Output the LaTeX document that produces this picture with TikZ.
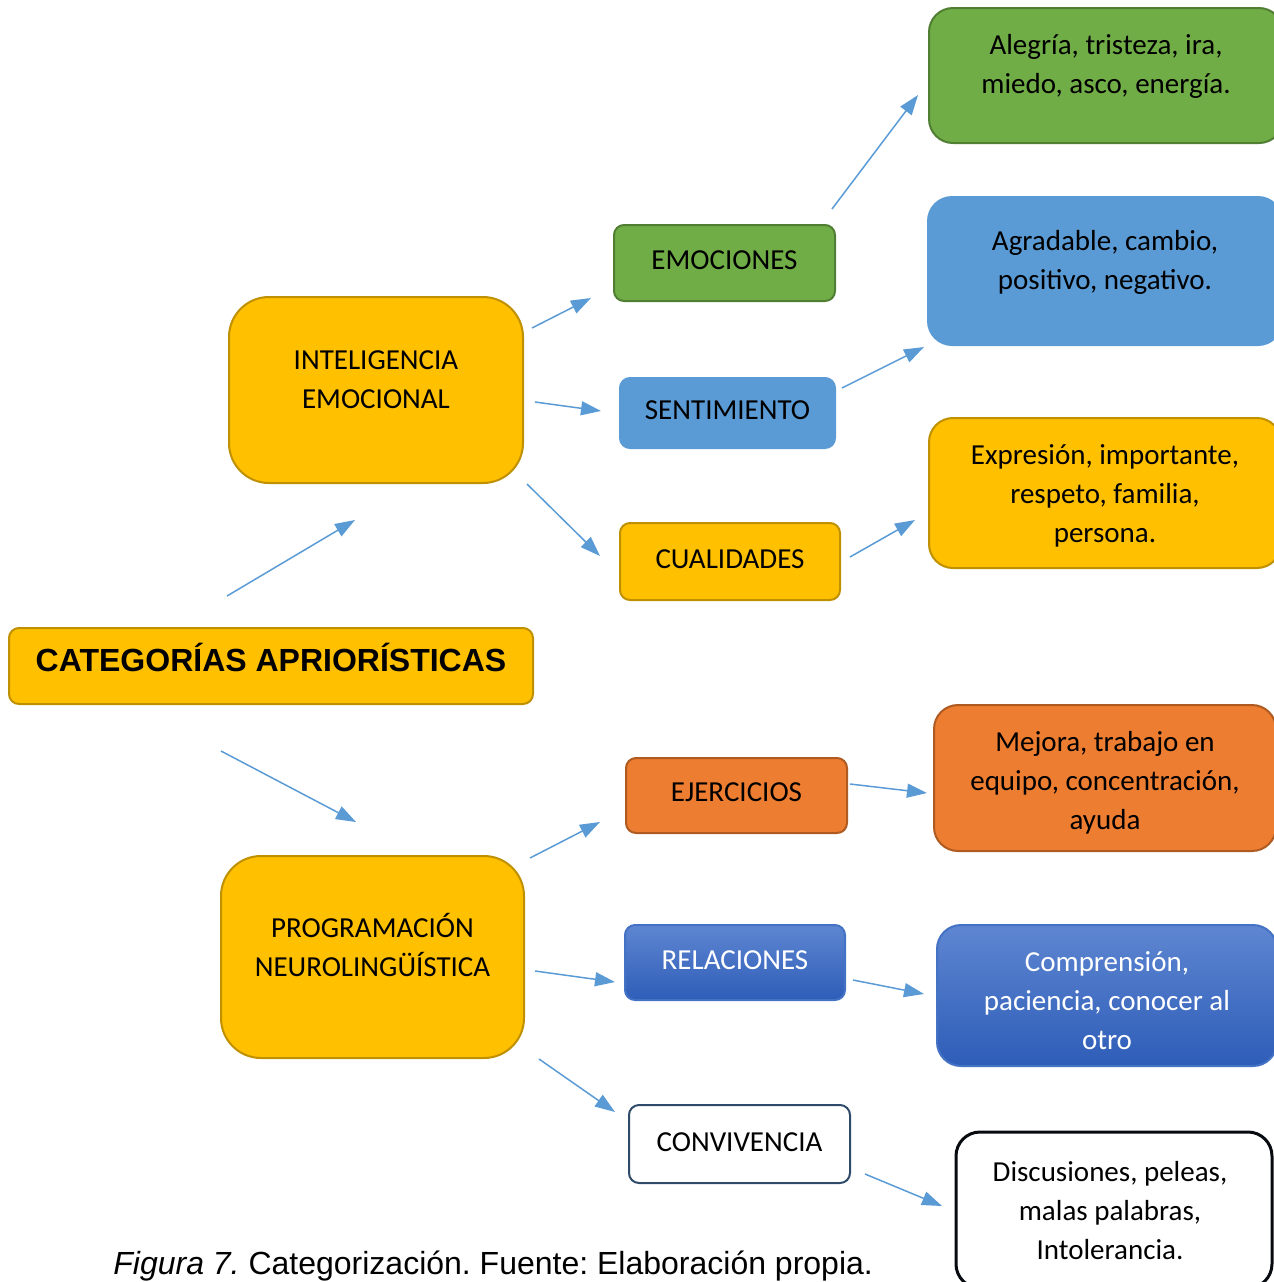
\documentclass[tikz,border=0pt]{standalone}
\usepackage{fontspec}
\setmainfont{Carlito}
\newfontfamily\arialfont{Liberation Sans}
\usetikzlibrary{arrows.meta}

\definecolor{verde}{HTML}{70AD47}
\definecolor{verdeborde}{HTML}{507E32}
\definecolor{celeste}{HTML}{5B9BD5}
\definecolor{amarillo}{HTML}{FFC000}
\definecolor{amarilloborde}{HTML}{BF9000}
\definecolor{naranja}{HTML}{ED7D31}
\definecolor{naranjaborde}{HTML}{AE5A21}
\definecolor{azularriba}{HTML}{5E86D1}
\definecolor{azulabajo}{HTML}{2E5DB8}
\definecolor{azulborde}{HTML}{4472C4}
\definecolor{gris}{HTML}{2F4B69}
\definecolor{flechaazul}{HTML}{5B9BD5}

% text lines centred, lifted by #1
\newcommand{\cajatexto}[2]{\raisebox{#1}[0pt][0pt]{\begin{tabular}{@{}c@{}}#2\end{tabular}}}

\tikzset{
  caja/.style={rounded corners=5pt, inner sep=0pt, outer sep=0pt, align=center,
    line width=1pt, font=\fontsize{14.5}{19.5}\selectfont},
  cverde/.style={caja, fill=verde, draw=verdeborde},
  cceleste/.style={caja, fill=celeste, draw=celeste},
  camarilla/.style={caja, fill=amarillo, draw=amarilloborde},
  cnaranja/.style={caja, fill=naranja, draw=naranjaborde},
  cazul/.style={caja, top color=azularriba, bottom color=azulabajo, draw=azulborde, text=white},
  cblanca/.style={caja, fill=white, draw=gris},
  flecha/.style={-{Triangle[length=10pt,width=7pt]}, line width=0.75pt, draw=flechaazul},
}

\begin{document}
\begin{tikzpicture}[x=0.5pt, y=-0.5pt]
  \path[use as bounding box] (0,0) rectangle (1274,1282);
  \clip (0,0) rectangle (1274,1282);

  % central category
  \node[camarilla, minimum width=262pt, minimum height=38pt, font=\arialfont\bfseries\fontsize{16}{19}\selectfont]
    (cat) at (271,666) {\cajatexto{-3pt}{CATEGORÍAS APRIORÍSTICAS}};

  % first branch
  \node[camarilla, rounded corners=20pt, minimum width=147pt, minimum height=93pt] (int) at (376,390) {\cajatexto{0.9pt}{INTELIGENCIA\\EMOCIONAL}};
  \node[cverde, minimum width=110.5pt, minimum height=38pt] (emo) at (724.5,263) {\cajatexto{-2.9pt}{EMOCIONES}};
  \node[cceleste, minimum width=107.5pt, minimum height=35pt] (sen) at (727.5,413) {\cajatexto{-2.9pt}{SENTIMIENTO}};
  \node[camarilla, minimum width=110pt, minimum height=38.5pt] (cua) at (730,561.5) {\cajatexto{-3.2pt}{CUALIDADES}};
  \node[cverde, rounded corners=12pt, minimum width=177pt, minimum height=67.5pt] (ale) at (1106,75.5) {\cajatexto{1.1pt}{Alegría, tristeza, ira,\\miedo, asco, energía.}};
  \node[cceleste, rounded corners=12pt, minimum width=177pt, minimum height=74pt] (agr) at (1105,271) {\cajatexto{0.9pt}{Agradable, cambio,\\positivo, negativo.}};
  \node[camarilla, rounded corners=12pt, minimum width=176pt, minimum height=75pt] (exp) at (1105,493) {\cajatexto{-4.9pt}{Expresión, importante,\\respeto, familia,\\persona.}};

  % second branch
  \node[camarilla, rounded corners=20pt, minimum width=151.5pt, minimum height=101pt] (prog) at (372.5,957) {\cajatexto{0.4pt}{PROGRAMACIÓN\\NEUROLINGÜÍSTICA}};
  \node[cnaranja, minimum width=110.5pt, minimum height=37.5pt] (eje) at (736.5,795.5) {\cajatexto{-2.7pt}{EJERCICIOS}};
  \node[cazul, minimum width=110pt, minimum height=37.5pt] (rel) at (735,962.5) {\cajatexto{-3.2pt}{RELACIONES}};
  \node[cblanca, minimum width=110.5pt, minimum height=39pt] (conv) at (739.5,1144) {\cajatexto{-3.4pt}{CONVIVENCIA}};
  \node[cnaranja, rounded corners=12pt, minimum width=171pt, minimum height=73pt] (mej) at (1105,778) {\cajatexto{-5.9pt}{Mejora, trabajo en\\equipo, concentración,\\ayuda}};
  \node[cazul, rounded corners=12pt, minimum width=170pt, minimum height=70.5pt] (com) at (1107,995.5) {\cajatexto{-7.2pt}{Comprensión,\\paciencia, conocer al\\otro}};
  \node[cblanca, rounded corners=12pt, line width=1.5pt, draw=black!85!gris, minimum width=158pt, minimum height=78pt] (dis) at (1114,1210) {\cajatexto{-4.9pt}{\hspace*{-4pt}Discusiones, peleas,\\\hspace*{-4pt}malas palabras,\\\hspace*{-4pt}Intolerancia.}};

  % arrows
  \draw[flecha] ([shift={(-44,-32)}]cat.north) -- ([shift={(-21,37)}]int.south);
  \draw[flecha] ([shift={(-50,47)}]cat.south) -- ([shift={(-16.5,-34)}]prog.north);

  \draw[flecha] ([shift={(9,-62)}]int.east) -- ([shift={(-23,35)}]emo.west);
  \draw[flecha] ([shift={(12,12)}]int.east) -- ([shift={(-19,-2)}]sen.west);
  \draw[flecha] ([shift={(4,1)}]int.south east) -- ([shift={(-20,-5.5)}]cua.west);
  \draw[flecha] ([shift={(-3,-16)}]emo.north east) -- ([shift={(-11,19.5)}]ale.west);
  \draw[flecha] ([shift={(7,-25)}]sen.east) -- ([shift={(-4,2)}]agr.south west);
  \draw[flecha] ([shift={(10,-4.5)}]cua.east) -- ([shift={(-14,27)}]exp.west);

  \draw[flecha] ([shift={(6,2)}]prog.north east) -- ([shift={(-26,26.5)}]eje.west);
  \draw[flecha] ([shift={(11,14)}]prog.east) -- ([shift={(-10,19.5)}]rel.west);
  \draw[flecha] ([shift={(15,1)}]prog.south east) -- ([shift={(-14,-32)}]conv.west);
  \draw[flecha] ([shift={(3,-11.5)}]eje.east) -- ([shift={(-7,15)}]mej.west);
  \draw[flecha] ([shift={(8,17.5)}]rel.east) -- ([shift={(-13,-1.5)}]com.west);
  \draw[flecha] ([shift={(15,30)}]conv.east) -- ([shift={(-14,-4)}]dis.west);

  % caption
  \node[anchor=base west, inner sep=0pt, font=\arialfont\fontsize{16}{19}\selectfont] (pie) at (113,1274)
    {\frenchspacing\textit{Figura 7.} Categorización. Fuente: Elaboración propia.};
\end{tikzpicture}
\end{document}
